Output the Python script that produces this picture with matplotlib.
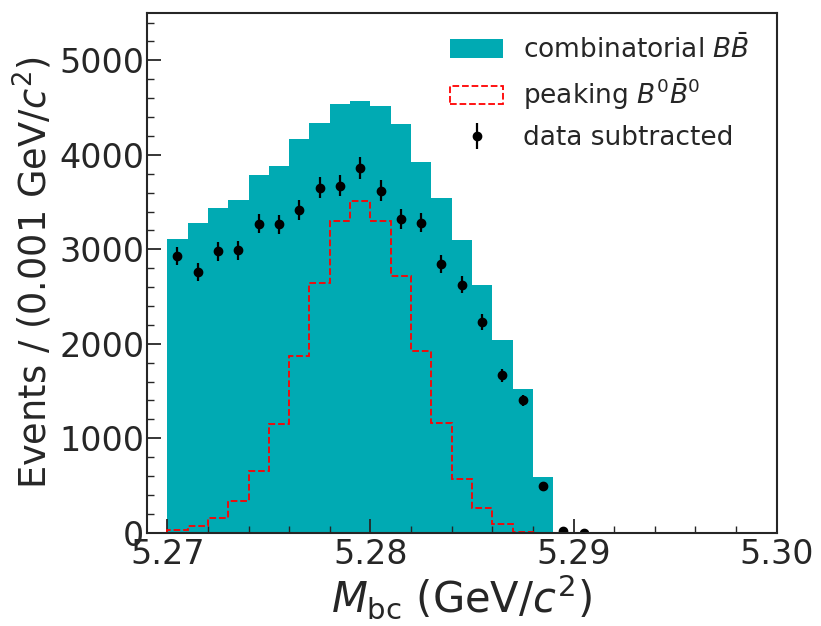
import numpy as np
import matplotlib.pyplot as plt

# M_bc binning: 1 MeV bins starting at 5.270 GeV
edges = np.round(np.arange(5.270, 5.2895, 0.001), 4)
centers = edges[:-1] + 0.0005

combinatorial = [3112, 3277, 3435, 3527, 3784, 3883, 4168, 4340, 4533, 4569,
                 4516, 4322, 3928, 3548, 3094, 2619, 2038, 1517, 595]
peaking = [32, 67, 151, 331, 651, 1151, 1869, 2647, 3305, 3516,
           3298, 2717, 1925, 1165, 570, 264, 88, 10, 2]

data_x = np.round(np.arange(5.2705, 5.2910, 0.001), 4)
data_y = [2925, 2759, 2981, 2988, 3273, 3266, 3414, 3654, 3675, 3862, 3619,
          3319, 3281, 2844, 2626, 2231, 1665, 1401, 496, 15, 0]
data_err = [95, 95, 100, 100, 100, 100, 105, 110, 110, 115, 110,
            105, 100, 95, 90, 80, 70, 60, 40, 15, 8]

plt.rcParams['font.family'] = 'DejaVu Sans'
plt.rcParams['mathtext.fontset'] = 'dejavusans'
plt.rcParams['text.color'] = '.15'
plt.rcParams['axes.labelcolor'] = '.15'
plt.rcParams['xtick.color'] = '.15'
plt.rcParams['ytick.color'] = '.15'

fig = plt.figure(figsize=(8.21, 6.26), dpi=100)
ax = fig.add_axes([0.179, 0.149, 0.767, 0.830])

ax.hist(centers, bins=edges, weights=combinatorial, histtype='stepfilled',
        color='#00aab3', label=r'combinatorial $B\bar{B}$')
ax.hist(centers, bins=edges, weights=peaking, histtype='step',
        color='red', ls='--', lw=1.3, label=r'peaking $B^0\bar{B}^0$')
ax.errorbar(data_x, data_y, yerr=data_err, fmt='o', color='black',
            ms=6, elinewidth=1.6, capsize=0, label='data subtracted')

ax.set_xlim(5.269, 5.300)
ax.set_ylim(0, 5500)
ax.set_xticks([5.27, 5.28, 5.29, 5.30])
ax.set_xticklabels(['5.27', '5.28', '5.29', '5.30'])
ax.set_xticks(np.arange(5.270, 5.3001, 0.002), minor=True)
ax.set_yticks(np.arange(0, 5001, 1000))
ax.set_yticks(np.arange(0, 5501, 200), minor=True)

ax.tick_params(which='both', direction='in', labelsize=24)
ax.tick_params(axis='y', pad=2)
ax.tick_params(which='major', length=10, width=1.3)
ax.tick_params(which='minor', length=5, width=1.0)
for s in ax.spines.values():
    s.set_linewidth(1.5)
    s.set_color('.15')

ax.set_xlabel(r'$M_{\rm bc}$ (GeV/$c^2$)', fontsize=30, labelpad=1)
ax.set_ylabel(r'Events / (0.001 GeV/$c^2$)', fontsize=26.5, labelpad=3)

ax.legend(loc='upper right', bbox_to_anchor=(0.99, 1.0), frameon=False,
          fontsize=19, handlelength=2.0, handletextpad=0.75,
          borderaxespad=0.4, labelspacing=0.5)

fig.savefig('out.png', dpi=100)
